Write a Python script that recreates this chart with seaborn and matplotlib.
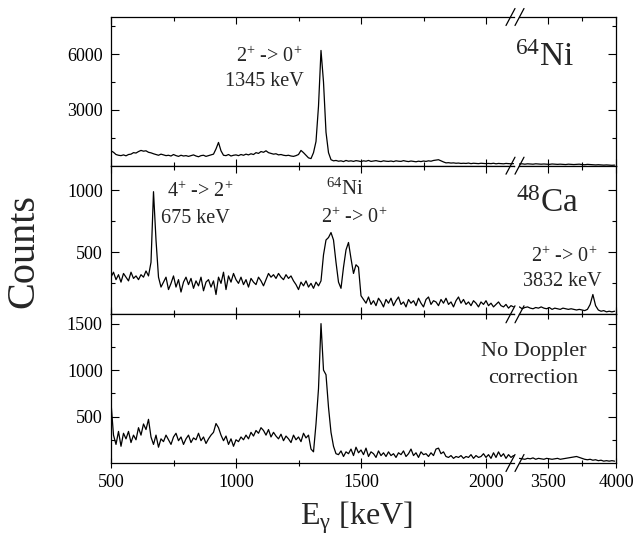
import numpy as np
import pandas as pd
import matplotlib
matplotlib.use("Agg")
import matplotlib.pyplot as plt
from matplotlib.lines import Line2D
import seaborn as sns

# energy binning (keV): left part of the broken axis and right part
lo_start, lo_step = 500, 10
hi_start, hi_step = 3290, 20

# 64Ni gated spectrum (top panel)
ni64_lo = [
    800, 720, 600, 560, 540, 580, 530, 600, 620, 700, 680,   # 500-600
    760, 820, 780, 800, 720, 690, 640, 600, 560, 620,        # 610-700
    580, 540, 560, 520, 600, 540, 500, 560, 520, 540,        # 710-800
    500, 540, 580, 520, 480, 540, 560, 500, 540, 580,        # 810-900
    620, 900, 1250, 800, 560, 540, 600, 520, 560, 580,       # 910-1000
    540, 600, 560, 620, 580, 640, 600, 700, 660, 760,        # 1010-1100
    720, 800, 700, 660, 620, 640, 580, 600, 560, 540,        # 1110-1200
    560, 520, 500, 540, 600, 820, 700, 560, 420, 380,        # 1210-1300
    700, 1300, 3200, 6200, 4500, 1800, 700, 320, 260, 280,   # 1310-1400
    240, 260, 220, 280, 240, 260, 230, 270, 250, 220,        # 1410-1500
    260, 240, 280, 230, 250, 270, 240, 220, 260, 240,        # 1510-1600
    230, 250, 220, 260, 240, 230, 270, 240, 220, 250,        # 1610-1700
    230, 210, 240, 220, 250, 230, 260, 240, 280, 300,        # 1710-1800
    320, 260, 200, 150, 160, 140, 150, 130, 140, 120,        # 1810-1900
    130, 120, 140, 110, 130, 120, 110, 130, 120, 110,        # 1910-2000
    120, 110, 130, 100, 120, 110, 100, 120, 110, 100, 110,   # 2010-2110
]
ni64_hi = [
    90, 100, 80, 100, 90, 80, 100, 90, 80,
    90, 80, 70, 90, 80, 70, 80, 70, 60, 80,
    70, 60, 70, 80, 60, 50, 70, 60, 50, 40,
    50, 40, 30, 40, 30, 20, 30,
]

# 48Ca gated spectrum (middle panel)
ca48_lo = [
    300, 340, 280, 320, 260, 330, 300, 270, 340, 290, 310,   # 500-600
    280, 320, 300, 350, 310, 420, 990, 600, 300, 220,        # 610-700
    260, 300, 200, 250, 310, 220, 280, 180, 260, 300,        # 710-800
    240, 290, 210, 270, 230, 300, 190, 260, 280, 220,        # 810-900
    270, 160, 300, 250, 340, 200, 310, 260, 330, 280,        # 910-1000
    250, 300, 240, 280, 220, 290, 260, 240, 300, 270,        # 1010-1100
    230, 280, 330, 300, 320, 290, 330, 300, 280, 320,        # 1110-1200
    290, 310, 270, 240, 200, 260, 230, 270, 220, 250,        # 1210-1300
    210, 260, 230, 270, 480, 600, 620, 660, 600, 420,        # 1310-1400
    260, 210, 380, 520, 580, 450, 330, 400, 380, 150,        # 1410-1500
    120, 90, 140, 80, 110, 70, 130, 100, 60, 120,            # 1510-1600
    90, 130, 70, 110, 140, 80, 100, 60, 120, 90,             # 1610-1700
    110, 70, 130, 90, 60, 120, 140, 80, 110, 100,            # 1710-1800
    70, 120, 90, 130, 80, 100, 60, 110, 140, 90,             # 1810-1900
    120, 80, 100, 70, 110, 90, 60, 100, 80, 110,             # 1910-2000
    70, 90, 60, 80, 100, 70, 60, 80, 50, 70, 60,             # 2010-2110
]
ca48_hi = [
    60, 45, 55, 60, 50, 45, 55, 50, 60,
    50, 45, 55, 40, 50, 45, 40, 50, 45, 40,
    45, 40, 35, 40, 35, 30, 40, 80, 160, 70,
    35, 25, 30, 20, 25, 20, 25,
]

# spectrum without Doppler correction (bottom panel)
raw_lo = [
    650, 300, 200, 340, 180, 320, 260, 340, 220, 300, 250,   # 500-600
    380, 300, 420, 360, 470, 280, 200, 300, 170, 260,        # 610-700
    230, 300, 250, 200, 280, 320, 240, 280, 200, 260,        # 710-800
    300, 220, 270, 250, 320, 240, 280, 210, 260, 300,        # 810-900
    330, 425, 380, 300, 240, 290, 200, 260, 180, 250,        # 910-1000
    230, 280, 250, 300, 260, 330, 290, 350, 320, 380,        # 1010-1100
    350, 300, 360, 280, 330, 290, 260, 310, 240, 290,        # 1110-1200
    260, 220, 300, 250, 280, 230, 320, 270, 300, 150,        # 1210-1300
    120, 420, 800, 1500, 1000, 950, 600, 330, 180, 100,      # 1310-1400
    90, 130, 70, 120, 100, 150, 80, 170, 110, 140,           # 1410-1500
    90, 160, 70, 120, 100, 60, 130, 80, 110, 70,             # 1510-1600
    120, 80, 100, 60, 110, 90, 130, 70, 100, 150,            # 1610-1700
    80, 110, 60, 120, 90, 100, 70, 110, 80, 150,             # 1710-1800
    160, 100, 120, 70, 60, 80, 50, 70, 60, 80,               # 1810-1900
    50, 70, 60, 90, 50, 80, 60, 70, 100, 60,                 # 1910-2000
    90, 50, 110, 60, 120, 70, 100, 50, 90, 60, 80,           # 2010-2110
]
raw_hi = [
    50, 45, 40, 50, 45, 55, 40, 50, 45,
    40, 50, 45, 40, 45, 50, 40, 45, 50, 55,
    60, 65, 70, 60, 50, 40, 35, 40, 30, 35,
    25, 30, 20, 25, 20, 25, 20,
]

# per panel: y limit, labelled ticks, minor ticks
panels = [
    (ni64_lo, ni64_hi, 8000, [3000, 6000], [1500, 4500, 7500]),
    (ca48_lo, ca48_hi, 1200, [500, 1000], [250, 750]),
    (raw_lo, raw_hi, 1600, [500, 1000, 1500], [250, 750, 1250]),
]

sns.set_style("ticks")
plt.rcParams["font.family"] = ["Liberation Serif", "DejaVu Serif"]
plt.rcParams["mathtext.fontset"] = "custom"
plt.rcParams["mathtext.rm"] = "Liberation Serif"
plt.rcParams["mathtext.it"] = "Liberation Serif:italic"
plt.rcParams["mathtext.bf"] = "Liberation Serif:bold"
plt.rcParams["axes.edgecolor"] = "black"
plt.rcParams["xtick.color"] = "black"
plt.rcParams["ytick.color"] = "black"

W, H = 636, 536
fig = plt.figure(figsize=(W / 100, H / 100), dpi=100)
gs = fig.add_gridspec(3, 2, left=111 / W, right=616 / W, top=1 - 17 / H, bottom=1 - 463 / H,
                      hspace=0, wspace=5.5 / 249.75, width_ratios=[402.5, 97])

for r, (lo, hi, ymax, major, minor) in enumerate(panels):
    e_lo = lo_start + lo_step * np.arange(len(lo))
    e_hi = hi_start + hi_step * np.arange(len(hi))
    ax_l = fig.add_subplot(gs[r, 0])
    ax_r = fig.add_subplot(gs[r, 1])
    df_lo = pd.DataFrame({"energy": e_lo, "counts": lo})
    df_hi = pd.DataFrame({"energy": e_hi, "counts": hi})
    sns.lineplot(data=df_lo, x="energy", y="counts", ax=ax_l, color="black", lw=0.9,
                 estimator=None, legend=False)
    sns.lineplot(data=df_hi, x="energy", y="counts", ax=ax_r, color="black", lw=0.9,
                 estimator=None, legend=False)

    ax_l.set_xlim(500, 2110)
    ax_r.set_xlim(3287, 4000)
    ax_l.set_xticks([500, 1000, 1500, 2000])
    ax_l.set_xticks([750, 1250, 1750], minor=True)
    ax_r.set_xticks([3500, 4000])
    ax_r.set_xticks([3750], minor=True)

    d = "inout" if r == 2 else "in"
    lmaj = 6.5 if r == 2 else 5
    lmin = 4 if r == 2 else 3
    for ax in (ax_l, ax_r):
        ax.set_ylim(0, ymax)
        ax.set_yticks(major)
        ax.set_yticks(minor, minor=True)
        ax.set(xlabel="", ylabel="")
        ax.tick_params(axis="x", which="both", direction=d, top=True, bottom=True,
                       labelbottom=(r == 2), labelsize=13, pad=5, width=0.8)
        ax.tick_params(axis="x", which="major", length=lmaj)
        ax.tick_params(axis="x", which="minor", length=lmin)
        ax.tick_params(axis="y", which="both", direction="in", labelsize=13, pad=6, width=0.8)
        ax.tick_params(axis="y", which="major", length=5.5)
        ax.tick_params(axis="y", which="minor", length=3)
        for s in ax.spines.values():
            s.set_linewidth(0.9)
    ax_l.spines["right"].set_visible(False)
    ax_r.spines["left"].set_visible(False)
    ax_l.tick_params(axis="y", which="both", left=True, right=False)
    ax_r.tick_params(axis="y", which="both", left=False, right=True, labelleft=False)

# axis break marks "//" at each panel edge
for yb in [17, 165.7, 314.3, 463]:
    for cx in [510.5, 519.5]:
        fig.add_artist(Line2D([(cx - 4.5) / W, (cx + 4.5) / W],
                              [1 - (yb + 8.5) / H, 1 - (yb - 8.5) / H],
                              transform=fig.transFigure, color="black", lw=0.9))


def ftext(px, py, s, size, **kw):
    fig.text(px / W, 1 - py / H, s, fontsize=size, ha="center", va="baseline", **kw)


ftext(269, 62, "$2^{+}$ -> $0^{+}$", 14.5)
ftext(264.5, 86, "1345 keV", 14.5)
ftext(545, 65.7, "$^{64}$Ni", 24)
ftext(200.5, 197, "$4^{+}$ -> $2^{+}$", 14.5)
ftext(195.5, 223, "675 keV", 14.5)
ftext(345, 195, "$^{64}$Ni", 15)
ftext(354, 223, "$2^{+}$ -> $0^{+}$", 14.5)
ftext(547.5, 211.7, "$^{48}$Ca", 24)
ftext(564, 262, "$2^{+}$ -> $0^{+}$", 14.5)
ftext(562.5, 286.5, "3832 keV", 14.5)
ftext(534, 356, "No Doppler", 16)
ftext(533, 383, "correction", 16)
ftext(356, 524, r"E$_{\mathrm{\gamma}}$ [keV]", 23)
fig.text(24 / W, 1 - 251 / H, "Counts", fontsize=29, rotation=90, ha="center", va="center")

fig.savefig("out.png", dpi=100)
